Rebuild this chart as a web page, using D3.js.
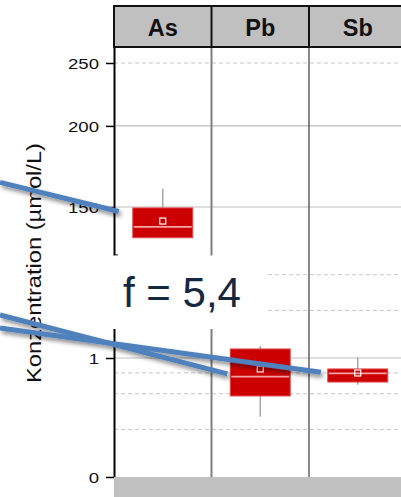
<!DOCTYPE html>
<html><head><meta charset="utf-8">
<script src="https://cdn.jsdelivr.net/npm/d3@7"></script>
<style>
html,body{margin:0;padding:0;background:#fff;}
svg{display:block;font-family:"Liberation Sans",Arial,Helvetica,sans-serif;}
</style></head><body>
<svg id="chart" width="401" height="497"></svg>
<script>
// ---- data ----
const categories = ["As", "Pb", "Sb"];

// upper (logarithmic) segment of the broken axis
const upperTicks = [250, 200, 150];
const upperGridSolid = [200, 150];
const upperGridDashed = [250];
const upperBoxes = [
  { cat: "As", low: 134.5, q1: 134.5, median: 139.8, mean: 142.7, q3: 149.5, high: 160 }
];

// lower (linear) segment
const lowerTicks = [1, 0];
const lowerGridSolid = [1];
const lowerGridDashed = [1.7, 1.4, 0.875, 0.7, 0.4];
const lowerBoxes = [
  { cat: "Pb", low: 0.507, q1: 0.681, median: 0.843, mean: 0.908, q3: 1.076, high: 1.10 },
  { cat: "Sb", low: 0.776, q1: 0.798, median: 0.871, mean: 0.874, q3: 0.908, high: 1.006 }
];

// callout pointers: start at the left edge, end beside a box (value on that panel's scale)
const pointerUpper = [{ from: 163.7, to: 147.6, cat: "As", gap: -14 }];
const pointerLower = [
  { from: 1.361, to: 0.866, cat: "Pb", gap: 3 },
  { from: 1.252, to: 0.880, cat: "Sb", gap: 7 }
];

const yTitle = "Konzentration (µmol/L)";
const factorLabel = "f = 5,4";

// ---- layout ----
const W = 401, H = 497;
const left = 114, right = 406.5;
const headTop = 6, headBottom = 47;
const breakY = 255.5, bottom = 477;

const svg = d3.select("#chart");
const defs = svg.append("defs");
defs.append("clipPath").attr("id", "clipUp").append("rect")
  .attr("x", left).attr("y", headBottom).attr("width", W - left).attr("height", breakY - headBottom);
defs.append("clipPath").attr("id", "clipLow").append("rect")
  .attr("x", left).attr("y", breakY).attr("width", W - left).attr("height", bottom - breakY);
const f = defs.append("filter").attr("id", "shadow")
  .attr("x", "-20%").attr("y", "-50%").attr("width", "140%").attr("height", "300%");
f.append("feDropShadow").attr("dx", 2).attr("dy", 3).attr("stdDeviation", 2)
  .attr("flood-color", "#000").attr("flood-opacity", 0.45);

const x = d3.scaleBand().domain(categories).range([left, right]);
const yUpBase = d3.scaleLog().domain([150, 250]).range([207, 63]);
const yUp = d3.scaleLog()
  .domain([yUpBase.invert(breakY), yUpBase.invert(headBottom)])
  .range([breakY, headBottom]);
const yLowBase = d3.scaleLinear().domain([0, 1]).range([bottom, 358]);
const yLow = d3.scaleLinear()
  .domain([0, yLowBase.invert(breakY)])
  .range([bottom, breakY]);

const boxW = x.bandwidth() * 0.615;

function panel(cls, clip, y, solid, dashed, boxes) {
  const g = svg.append("g").attr("class", cls).attr("clip-path", `url(#${clip})`);
  g.selectAll("line.gs").data(solid).join("line").attr("class", "gs")
    .attr("x1", left).attr("x2", W).attr("y1", d => y(d)).attr("y2", d => y(d))
    .attr("stroke", "#bdbdbd").attr("stroke-width", 1.2);
  g.selectAll("line.gd").data(dashed).join("line").attr("class", "gd")
    .attr("x1", left).attr("x2", W).attr("y1", d => y(d)).attr("y2", d => y(d))
    .attr("stroke", "#c8c8c8").attr("stroke-width", 1).attr("stroke-dasharray", "4,3");
  const b = g.selectAll("g.box").data(boxes).join("g").attr("class", "box");
  const cx = d => x(d.cat) + x.bandwidth() / 2;
  b.append("line").attr("x1", cx).attr("x2", cx)
    .attr("y1", d => y(d.high)).attr("y2", d => y(d.low))
    .attr("stroke", "#a8a8a8").attr("stroke-width", 1.5);
  b.append("rect").attr("x", d => cx(d) - boxW / 2).attr("width", boxW)
    .attr("y", d => y(d.q3)).attr("height", d => y(d.q1) - y(d.q3))
    .attr("fill", "#cc0000").attr("stroke", "#e04a4a").attr("stroke-width", 1);
  b.append("line").attr("x1", d => cx(d) - boxW / 2 + 1).attr("x2", d => cx(d) + boxW / 2 - 1)
    .attr("y1", d => y(d.median)).attr("y2", d => y(d.median))
    .attr("stroke", "#f2a6a6").attr("stroke-width", 1.8);
  b.append("rect").attr("x", d => cx(d) - 3).attr("y", d => y(d.mean) - 3)
    .attr("width", 6).attr("height", 6)
    .attr("fill", "none").attr("stroke", "#ffffff").attr("stroke-width", 1.2);
  return g;
}

panel("upper", "clipUp", yUp, upperGridSolid, upperGridDashed, upperBoxes);
panel("lower", "clipLow", yLow, lowerGridSolid, lowerGridDashed, lowerBoxes);

// column separators
const seps = categories.slice(1);
svg.selectAll("line.sep").data(seps).join("line").attr("class", "sep")
  .attr("x1", d => x(d)).attr("x2", d => x(d))
  .attr("y1", headBottom).attr("y2", bottom)
  .attr("stroke", (d, i) => i === 0 ? "#7f7f7f" : "#3a3a3a")
  .attr("stroke-width", (d, i) => i === 0 ? 2 : 1.2);

// axes
const labelStretch = 1.2;
const axUp = svg.append("g").attr("transform", `translate(${left},0)`)
  .call(d3.axisLeft(yUp).tickValues(upperTicks).tickFormat(d3.format("d")).tickSize(8).tickSizeOuter(0));
const axLow = svg.append("g").attr("transform", `translate(${left},0)`)
  .call(d3.axisLeft(yLow).tickValues(lowerTicks).tickFormat(d3.format("d")).tickSize(8).tickSizeOuter(0));
[axUp, axLow].forEach(a => {
  a.select(".domain").attr("stroke", "#000").attr("stroke-width", 2);
  a.selectAll(".tick line").attr("stroke", "#000").attr("stroke-width", 1.5);
  a.selectAll(".tick text").attr("font-size", 15.5).attr("fill", "#111")
    .attr("font-family", "'Liberation Sans', Arial, sans-serif")
    .attr("transform", `scale(${labelStretch},1)`)
    .attr("x", -15 / labelStretch).attr("dy", "0.36em");
});
// short end mark where the upper segment is cut
svg.append("line").attr("x1", left).attr("x2", left + 4)
  .attr("y1", breakY - 0.5).attr("y2", breakY - 0.5)
  .attr("stroke", "#000").attr("stroke-width", 1.2);

// strip header
const head = svg.append("g");
head.append("rect").attr("x", left).attr("y", headTop).attr("width", W - left + 5)
  .attr("height", headBottom - headTop).attr("fill", "#c0c0c0")
  .attr("stroke", "#111").attr("stroke-width", 2);
head.selectAll("line").data(seps).join("line")
  .attr("x1", d => x(d)).attr("x2", d => x(d)).attr("y1", headTop).attr("y2", headBottom)
  .attr("stroke", "#111").attr("stroke-width", 2);
head.selectAll("text").data(categories).join("text")
  .attr("x", d => x(d) + x.bandwidth() / 2).attr("y", 36)
  .attr("text-anchor", "middle").attr("font-weight", "bold").attr("font-size", 23.5)
  .attr("fill", "#111").text(d => d);

// bottom strip
svg.append("rect").attr("x", left).attr("y", bottom).attr("width", W - left)
  .attr("height", H - bottom).attr("fill", "#c0c0c0");

// axis title
svg.append("text").attr("transform", "translate(41,263) rotate(-90)")
  .attr("text-anchor", "middle").attr("font-size", 20).attr("fill", "#111")
  .attr("textLength", 240).attr("lengthAdjust", "spacingAndGlyphs")
  .text(yTitle);

// magnification callout
svg.append("rect").attr("x", 100).attr("y", breakY).attr("width", 165).attr("height", 329 - breakY)
  .attr("fill", "#fff");
svg.append("text").attr("x", 123).attr("y", 307).attr("font-size", 42)
  .attr("fill", "#16283f").text(factorLabel);

const blue = "#4f81bd";
const ptr = svg.append("g").attr("filter", "url(#shadow)");
pointerUpper.forEach(p => {
  ptr.append("line").attr("x1", 0).attr("y1", yUpBase(p.from))
    .attr("x2", x(p.cat) + (x.bandwidth() - boxW) / 2 + p.gap).attr("y2", yUpBase(p.to))
    .attr("stroke", blue).attr("stroke-width", 5);
});
pointerLower.forEach(p => {
  ptr.append("line").attr("x1", 0).attr("y1", yLowBase(p.from))
    .attr("x2", x(p.cat) + (x.bandwidth() - boxW) / 2 - p.gap).attr("y2", yLowBase(p.to))
    .attr("stroke", blue).attr("stroke-width", 5);
});
</script>
</body></html>
